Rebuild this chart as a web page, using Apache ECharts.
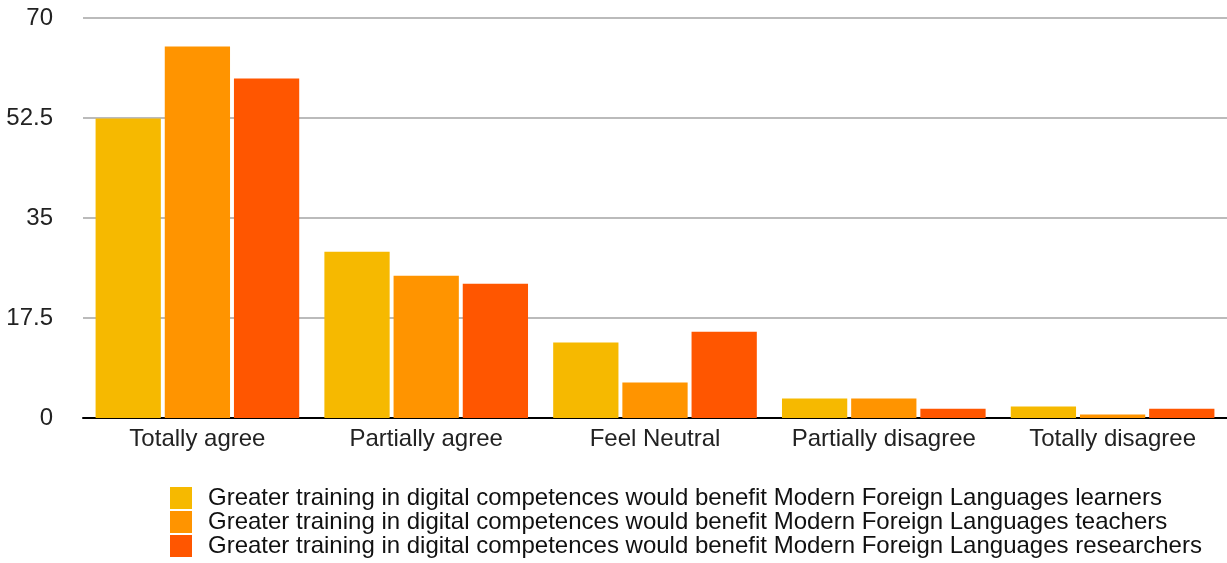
<!DOCTYPE html>
<html><head><meta charset="utf-8">
<script src="https://cdn.jsdelivr.net/npm/echarts@6/dist/echarts.min.js"></script>
<style>html,body{margin:0;padding:0;background:#fff}#c{width:1227px;height:563px}</style>
</head><body><div id="c"></div>
<script>
const categories = ["Totally agree", "Partially agree", "Feel Neutral", "Partially disagree", "Totally disagree"];
const seriesNames = [
  "Greater training in digital competences would benefit Modern Foreign Languages learners",
  "Greater training in digital competences would benefit Modern Foreign Languages teachers",
  "Greater training in digital competences would benefit Modern Foreign Languages researchers"
];
const learners = [52.4, 29.1, 13.2, 3.4, 2.0];
const teachers = [65.0, 24.9, 6.2, 3.4, 0.6];
const researchers = [59.4, 23.5, 15.1, 1.6, 1.6];
const colors = ["#F6B900", "#FF9400", "#FF5600"];

const chart = echarts.init(document.getElementById('c'));
const font = "Liberation Sans, Arial, sans-serif";
chart.setOption({
  animation: false,
  grid: { left: 83, right: 0, top: 18, bottom: 145, containLabel: false },
  legend: {
    orient: 'vertical', left: 170, top: 486, height: 90, padding: 0,
    itemWidth: 22, itemHeight: 22, itemGap: 0, icon: 'rect',
    textStyle: { fontFamily: font, fontSize: 24, lineHeight: 22, color: '#111', padding: [0, 0, 0, 11] },
    data: seriesNames
  },
  xAxis: {
    type: 'category', data: categories,
    axisLine: { lineStyle: { color: '#000', width: 2 } },
    axisTick: { show: false },
    axisLabel: { fontFamily: font, fontSize: 24, color: '#222', margin: 9, interval: 0 }
  },
  yAxis: {
    type: 'value', min: 0, max: 70, interval: 17.5,
    axisLine: { show: false }, axisTick: { show: false },
    splitLine: { lineStyle: { color: '#bbbbbb', width: 2 } },
    axisLabel: { fontFamily: font, fontSize: 24, color: '#222', margin: 30 }
  },
  series: [
    { name: seriesNames[0], type: 'bar', data: learners, itemStyle: { color: colors[0] }, barGap: '6%', barCategoryGap: '11%' },
    { name: seriesNames[1], type: 'bar', data: teachers, itemStyle: { color: colors[1] }, barGap: '6%', barCategoryGap: '11%' },
    { name: seriesNames[2], type: 'bar', data: researchers, itemStyle: { color: colors[2] }, barGap: '6%', barCategoryGap: '11%' }
  ]
});
</script></body></html>
